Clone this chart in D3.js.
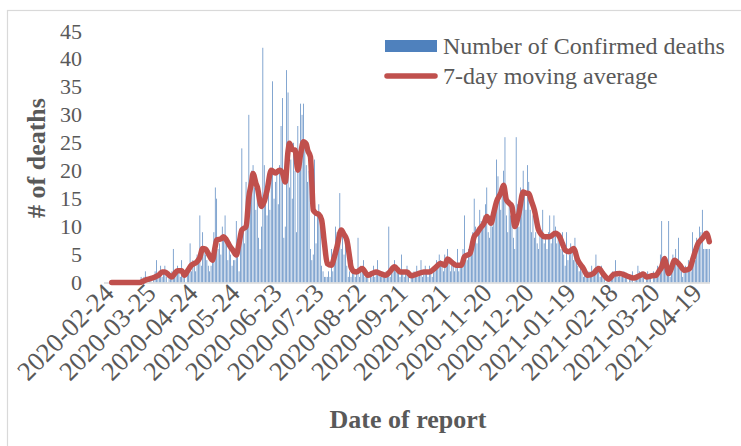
<!DOCTYPE html>
<html><head><meta charset="utf-8">
<script src="https://cdn.jsdelivr.net/npm/d3@7"></script>
<style>
body{margin:0;background:#fff}
svg{display:block}
text{font-family:"Liberation Serif","Times New Roman",serif;fill:#595959}
</style>
</head><body><svg id="chart" width="741" height="446"></svg>
<script>
const startDate = "2020-02-24";
// daily confirmed deaths, one value per day from 2020-02-24
const dailyDeaths = [
0,0,0,0,0,0,0,0,0,0,
0,0,0,0,0,0,0,0,0,0,
0,0,0,0,0,0,1,0,1,2,
1,0,1,1,0,1,2,4,1,2,
3,1,2,3,1,0,1,1,2,6,
1,2,3,2,1,4,2,1,0,2,
3,7,2,4,3,2,5,4,12,3,
9,6,5,4,3,2,3,4,9,17,
15,6,7,5,10,8,12,7,4,6,
5,3,4,4,11,6,2,8,24,9,
7,18,12,30,14,20,21,17,13,16,
8,6,10,42,21,14,12,18,13,20,
36,15,18,20,14,21,28,33,8,10,
38,34,17,22,15,25,20,9,28,20,
32,30,32,25,21,18,20,6,4,5,
22,7,12,14,10,3,2,1,1,1,
2,1,6,2,6,10,9,8,16,6,
9,5,7,3,1,2,1,4,2,1,
2,8,1,3,2,4,1,2,1,0,
2,1,3,1,2,4,2,1,2,1,
1,2,1,10,1,2,3,4,2,3,
2,1,5,2,1,2,3,1,0,1,
1,2,1,3,1,2,4,1,2,3,
2,1,3,2,1,2,3,4,3,5,
4,3,2,5,3,6,4,2,3,4,
2,3,6,2,3,4,6,12,5,4,
6,5,8,9,15,10,7,9,13,11,
10,12,14,17,9,8,12,10,13,14,
22,19,15,13,17,20,26,12,9,14,
12,11,8,6,26,14,10,17,15,20,
16,13,21,18,13,9,12,8,9,7,
6,9,8,13,7,8,6,9,12,7,
8,12,10,7,9,8,6,9,5,3,
9,4,5,7,6,4,8,4,3,2,
3,2,1,2,1,1,2,1,3,2,
2,5,3,2,1,3,1,2,0,1,
0,1,1,2,1,4,2,1,2,1,
1,2,1,1,0,1,1,2,0,1,
1,3,2,1,2,1,0,1,2,1,
1,0,2,1,1,3,2,5,11,3,
4,2,3,11,1,2,5,4,6,3,
8,3,2,1,2,3,2,4,3,2,
9,5,4,8,7,10,9,13,6,6,
6,6,6
];
// 7-day moving average: day number since start, value
const maDay = [5,25,28,30,34,36,39,41,43,46,48,50,52,55,57,59,62,66,68,70,72,74,77,79,80,83,85,87,89,92,94,96,98,101,103,105,106,108,109,112,114,116,119,122,125,127,129,131,132,134,136,138,140,142,144,145,147,148,149,151,153,155,157,159,162,164,166,169,171,173,175,176,178,180,184,188,191,194,197,201,204,207,209,211,216,219,223,228,232,236,240,243,245,248,251,255,257,261,264,266,268,271,273,276,278,280,283,285,287,289,291,293,296,299,301,303,305,307,310,312,314,318,322,325,327,329,332,335,338,342,345,349,353,356,360,364,368,373,378,382,385,387,391,394,396,398,400,401,403,405,407,411,414,418,420,422,424,426,428,430,431,432];
const maValue = [0,0,0.3,0.5,0.8,1.0,1.4,1.9,1.9,1.3,1.0,1.6,2.1,2.1,1.3,2.0,3.1,3.7,4.5,6.1,6.0,5.2,4.0,6.5,7.6,7.8,8.2,7.6,6.7,5.6,4.9,7.0,9.4,10.0,15.3,18.0,19.5,17.8,17.1,13.6,14.5,16.5,20.1,19.6,20.1,19.6,18.0,23.5,24.9,23.8,23.7,20.1,23.0,25.2,24.8,23.7,22.5,18.0,13.0,12.4,12.2,11.2,7.0,3.4,3.1,4.5,6.4,9.4,8.6,7.6,4.5,2.8,2.0,1.9,2.5,1.3,1.6,1.9,1.6,1.3,2.0,2.8,2.4,1.9,1.9,1.2,1.5,1.9,1.9,2.6,3.4,3.1,4.2,3.6,3.1,3.1,4.6,5.2,8.2,8.8,9.6,10.6,11.8,10.6,12.5,14.5,16.0,17.4,14.8,14.2,13.6,10.0,12.4,16.2,16.0,15.9,14.5,13.0,9.4,8.6,8.2,8.2,8.8,8.2,7.0,5.8,5.5,6.1,4.0,2.5,1.3,1.6,2.5,1.6,0.6,1.5,1.6,1.2,0.8,1.2,1.5,1.0,1.2,1.3,2.0,2.8,4.3,3.5,1.6,2.6,4.0,3.1,2.2,2.5,4.0,5.6,7.0,7.6,8.2,8.8,8.3,7.3];
const yTicks = [0,5,10,15,20,25,30,35,40,45];
const xTickLabels = ["2020-02-24","2020-03-25","2020-04-24","2020-05-24","2020-06-23","2020-07-23","2020-08-22","2020-09-21","2020-10-21","2020-11-20","2020-12-20","2021-01-19","2021-02-18","2021-03-20","2021-04-19"];
const seriesNames = ["Number of Confirmed deaths","7-day moving average"];

const serif = '"Liberation Serif", "Times New Roman", serif';
const svg = d3.select("#chart");
const parse = d3.timeParse("%Y-%m-%d"), fmt = d3.timeFormat("%Y-%m-%d");
const t0 = parse(startDate);
const dates = dailyDeaths.map((_, i) => fmt(d3.timeDay.offset(t0, i)));

const plot = {left: 104, right: 710, top: 31, bottom: 282.5};
const x = d3.scaleBand().domain(dates).range([plot.left, plot.right]).paddingInner(0.5).paddingOuter(0.25);
const y = d3.scaleLinear().domain([0, 45]).range([plot.bottom, plot.top]);
const cx = d => x(d) + x.bandwidth() / 2;

// frame
svg.append("rect").attr("x", 7.5).attr("y", 10.5).attr("width", 760).attr("height", 460)
  .attr("fill", "none").attr("stroke", "#d9d9d9").attr("stroke-width", 1.2);

// bars
svg.append("g").selectAll("rect").data(dailyDeaths.map((v, i) => ({d: dates[i], v})))
  .join("rect")
  .attr("x", d => x(d.d)).attr("width", x.bandwidth())
  .attr("y", d => y(d.v)).attr("height", d => y(0) - y(d.v))
  .attr("fill", "#4F81BD");

// x axis line
svg.append("line").attr("x1", plot.left).attr("x2", plot.right).attr("y1", plot.bottom + 0.5).attr("y2", plot.bottom + 0.5)
  .attr("stroke", "#d9d9d9").attr("stroke-width", 1.5);

// moving average line
const maData = maDay.map((dd, i) => ({d: dates[dd], v: maValue[i]}));
svg.append("path").datum(maData)
  .attr("d", d3.line().x(d => cx(d.d)).y(d => y(d.v)).curve(d3.curveMonotoneX))
  .attr("fill", "none").attr("stroke", "#C0504D").attr("stroke-width", 5.5)
  .attr("stroke-linejoin", "round").attr("stroke-linecap", "round");

// y axis
const ya = svg.append("g").attr("transform", `translate(${plot.left},0)`)
  .call(d3.axisLeft(y).tickValues(yTicks).tickSize(0).tickPadding(22))
  .attr("font-family", serif).attr("font-size", 22);
ya.select(".domain").remove();
ya.selectAll("text").attr("fill", "#595959");

// x axis labels
const xa = svg.append("g").attr("transform", `translate(0,${plot.bottom})`)
  .call(d3.axisBottom(x).tickValues(xTickLabels).tickSize(0))
  .attr("font-family", serif).attr("font-size", 26.5);
xa.select(".domain").remove();
xa.selectAll("text")
  .attr("text-anchor", "end").attr("dy", null)
  .attr("x", -1).attr("y", 16)
  .attr("transform", "rotate(-45)")
  .attr("fill", "#595959");

// axis titles
svg.append("text").attr("x", 408).attr("y", 428).attr("text-anchor", "middle")
  .style("font-size", "26px").style("font-weight", "bold").text("Date of report");
svg.append("text").attr("transform", "translate(45,158) rotate(-90)").attr("text-anchor", "middle")
  .style("font-size", "26px").style("font-weight", "bold").text("# of deaths");

// legend
const lg = svg.append("g");
lg.append("rect").attr("x", 385).attr("y", 40).attr("width", 52).attr("height", 12).attr("fill", "#4F81BD");
lg.append("line").attr("x1", 387).attr("x2", 435).attr("y1", 76).attr("y2", 76)
  .attr("stroke", "#C0504D").attr("stroke-width", 5.5).attr("stroke-linecap", "round");
lg.selectAll("text.lt").data(seriesNames).join("text").attr("class", "lt")
  .attr("x", 443).attr("y", (d, i) => 54 + i * 30)
  .style("font-size", "24px").text(d => d);
</script></body></html>
